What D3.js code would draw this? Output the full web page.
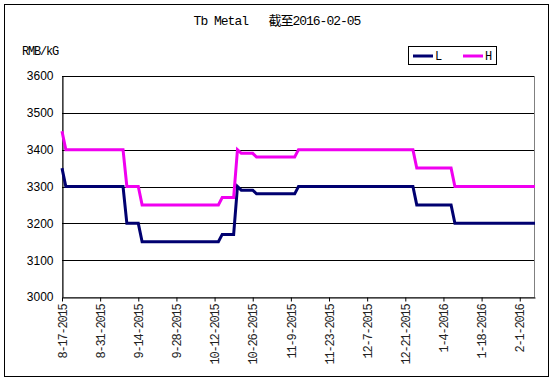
<!DOCTYPE html>
<html>
<head>
<meta charset="utf-8">
<script src="https://cdn.jsdelivr.net/npm/d3@7/dist/d3.min.js"></script>
<style>
  html, body { margin: 0; padding: 0; background: #fff; }
  svg { display: block; }
  text { white-space: pre; }
</style>
</head>
<body>
<script>
// ---- data ----
const titleText = "Tb Metal   截至2016-02-05";
const unitLabel = "RMB/kG";
const seriesNames = ["L", "H"];
const yTicks = [3000, 3100, 3200, 3300, 3400, 3500, 3600];
const tickLabels = ["8-17-2015", "8-31-2015", "9-14-2015", "9-28-2015", "10-12-2015", "10-26-2015",
  "11-9-2015", "11-23-2015", "12-7-2015", "12-21-2015", "1-4-2016", "1-18-2016", "2-1-2016"];
// weekday categories, index 0 = 8-17-2015 ... index 124 = 2-5-2016; a label every 10 categories
const tickIndex = [0, 10, 20, 30, 40, 50, 60, 70, 80, 90, 100, 110, 120];
const seriesL = [
  3350,
  3300, 3300, 3300, 3300, 3300, 3300, 3300, 3300, 3300, 3300, 3300, 3300, 3300, 3300, 3300, 3300,
  3200, 3200, 3200, 3200,
  3150, 3150, 3150, 3150, 3150, 3150, 3150, 3150, 3150, 3150, 3150, 3150, 3150, 3150, 3150, 3150, 3150, 3150, 3150, 3150, 3150,
  3170, 3170, 3170, 3170,
  3300,
  3290, 3290, 3290, 3290,
  3280, 3280, 3280, 3280, 3280, 3280, 3280, 3280, 3280, 3280, 3280,
  3300, 3300, 3300, 3300, 3300, 3300, 3300, 3300, 3300, 3300, 3300, 3300, 3300, 3300, 3300, 3300,
  3300, 3300, 3300, 3300, 3300, 3300, 3300, 3300, 3300, 3300, 3300, 3300, 3300, 3300, 3300,
  3250, 3250, 3250, 3250, 3250, 3250, 3250, 3250, 3250, 3250,
  3200, 3200, 3200, 3200, 3200, 3200, 3200, 3200, 3200, 3200, 3200,
  3200, 3200, 3200, 3200, 3200, 3200, 3200, 3200, 3200, 3200, 3200
];
const seriesH = [
  3450,
  3400, 3400, 3400, 3400, 3400, 3400, 3400, 3400, 3400, 3400, 3400, 3400, 3400, 3400, 3400, 3400,
  3300, 3300, 3300, 3300,
  3250, 3250, 3250, 3250, 3250, 3250, 3250, 3250, 3250, 3250, 3250, 3250, 3250, 3250, 3250, 3250, 3250, 3250, 3250, 3250, 3250,
  3270, 3270, 3270, 3270,
  3400,
  3390, 3390, 3390, 3390,
  3380, 3380, 3380, 3380, 3380, 3380, 3380, 3380, 3380, 3380, 3380,
  3400, 3400, 3400, 3400, 3400, 3400, 3400, 3400, 3400, 3400, 3400, 3400, 3400, 3400, 3400, 3400,
  3400, 3400, 3400, 3400, 3400, 3400, 3400, 3400, 3400, 3400, 3400, 3400, 3400, 3400, 3400,
  3350, 3350, 3350, 3350, 3350, 3350, 3350, 3350, 3350, 3350,
  3300, 3300, 3300, 3300, 3300, 3300, 3300, 3300, 3300, 3300, 3300,
  3300, 3300, 3300, 3300, 3300, 3300, 3300, 3300, 3300, 3300, 3300
];
const seriesColors = ["#000070", "#f000f0"];

// ---- chart ----
const W = 554, H = 381;
const svg = d3.select("body").append("svg").attr("width", W).attr("height", H);
const monoFont = "'Liberation Mono', 'DejaVu Sans Mono', monospace";

svg.append("rect").attr("x", 4.5).attr("y", 4.5).attr("width", 544).attr("height", 372)
  .attr("fill", "#fff").attr("stroke", "#000").attr("stroke-width", 1);

const plot = { left: 62, right: 535, top: 76, bottom: 297 };
const x = d3.scaleLinear().domain([0, seriesL.length - 1]).range([plot.left, plot.right]);
const y = d3.scaleLinear().domain([3000, 3600]).range([plot.bottom, plot.top]);

// plot-area border (gray)
svg.append("rect").attr("x", plot.left + 0.5).attr("y", plot.top + 0.5)
  .attr("width", plot.right - plot.left - 1).attr("height", plot.bottom - plot.top)
  .attr("fill", "none").attr("stroke", "#808080").attr("stroke-width", 1);

// gridlines
svg.append("g").selectAll("line").data(yTicks.filter(v => v > 3000)).join("line")
  .attr("x1", plot.left).attr("x2", plot.right - 1)
  .attr("y1", d => Math.round(y(d)) + 0.5).attr("y2", d => Math.round(y(d)) + 0.5)
  .attr("stroke", "#000").attr("stroke-width", 1);

// y axis
const yAxis = svg.append("g").attr("transform", `translate(${plot.left + 0.5},0)`)
  .call(d3.axisLeft(y).tickValues(yTicks).tickSize(0).tickPadding(9).tickFormat(d3.format("d")));
yAxis.select(".domain").attr("stroke", "#000");
yAxis.selectAll("text").attr("font-family", "'Liberation Sans', Arial, sans-serif")
  .attr("font-size", 12).attr("fill", "#000");

// x axis
const xAxis = svg.append("g").attr("transform", `translate(0,${plot.bottom + 0.5})`)
  .call(d3.axisBottom(x).tickValues(tickIndex).tickSize(4).tickSizeOuter(0)
    .tickFormat((d, i) => tickLabels[i]));
xAxis.select(".domain").attr("stroke", "#000");
xAxis.selectAll(".tick line").attr("stroke", "#000");
xAxis.selectAll("text")
  .attr("font-family", monoFont).attr("font-size", 12).attr("letter-spacing", -1.2)
  .attr("fill", "#222")
  .attr("text-anchor", "end")
  .attr("transform", "rotate(-90)")
  .attr("x", -7).attr("y", 0).attr("dy", "0.35em");

// lines
const line = d3.line().x((d, i) => x(i)).y(d => y(d));
[seriesL, seriesH].forEach((s, k) => {
  svg.append("path").datum(s).attr("d", line)
    .attr("fill", "none").attr("stroke", seriesColors[k]).attr("stroke-width", 3)
    .attr("stroke-linejoin", "miter");
});

// title
svg.append("text").attr("x", 277).attr("y", 25).attr("text-anchor", "middle")
  .attr("font-family", monoFont + ", 'Noto Sans CJK SC'").attr("font-size", 13)
  .attr("letter-spacing", -1).attr("fill", "#000").text(titleText);

// unit label
svg.append("text").attr("x", 22).attr("y", 55)
  .attr("font-family", monoFont).attr("font-size", 12).attr("letter-spacing", -1.2)
  .attr("fill", "#000").text(unitLabel);

// legend
const lg = svg.append("g");
lg.append("rect").attr("x", 408.5).attr("y", 46.5).attr("width", 88).attr("height", 18)
  .attr("fill", "#fff").attr("stroke", "#000").attr("stroke-width", 1);
seriesNames.forEach((n, k) => {
  const x0 = 413 + k * 50;
  lg.append("line").attr("x1", x0).attr("x2", x0 + 20).attr("y1", 56).attr("y2", 56)
    .attr("stroke", seriesColors[k]).attr("stroke-width", 3);
  lg.append("text").attr("x", x0 + 22).attr("y", 60)
    .attr("font-family", monoFont).attr("font-size", 12).attr("letter-spacing", -1.2)
    .attr("fill", "#000").text(n);
});
</script>
</body>
</html>
